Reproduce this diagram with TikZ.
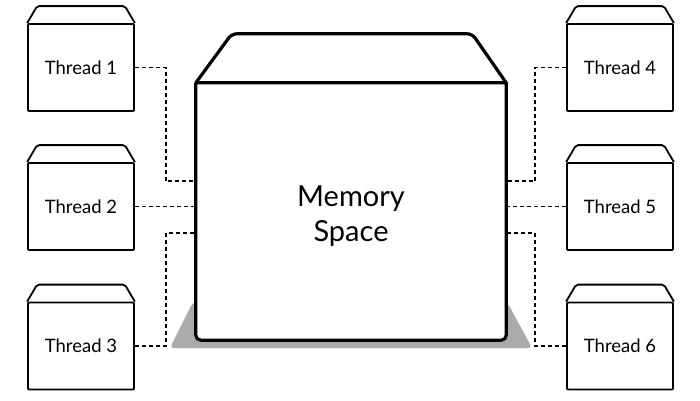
\documentclass[tikz,border=0pt]{standalone}
\usepackage{fontspec}
\setmainfont{Lato}
\usetikzlibrary{calc,backgrounds}

\definecolor{noir}{RGB}{0, 0, 0}
\definecolor{gris}{RGB}{170, 170, 170}
\definecolor{blanc}{RGB}{255, 255, 255}

\begin{document}
\begin{tikzpicture}[x=1pt, y=-1pt,
    thread/.style={draw=noir, fill=blanc, line width=1.8pt, rounded corners=1pt,
      minimum width=106pt, minimum height=87pt, inner sep=0pt,
      font=\fontsize{18.5}{22}\selectfont},
    threadface/.style={draw=noir, line width=1.8pt, rounded corners=2pt, line join=round},
    memoire/.style={fill=blanc, minimum width=310pt, minimum height=257pt},
    memoiretexte/.style={align=center, font=\fontsize{29}{35}\selectfont},
    memoireface/.style={draw=noir, line width=3.2pt, line join=round},
    lien/.style={draw=noir, line width=1.6pt, dash pattern=on 4pt off 3pt}]
  \useasboundingbox (0, 0) rectangle (700, 400);

  % threads
  \foreach \i/\x/\y in {1/81/67.5, 2/81/206.5, 3/81/346,
                        4/620/67.5, 5/620/206.5, 6/620/346} {
    \node[thread] (T\i) at (\x, \y) {Thread \i};
    \draw[threadface] (T\i.north west) -- ++(10, -17)
      -- ($(T\i.north east)+(-10, -17)$) -- (T\i.north east);
  }

  % shared memory
  \node[memoire] (mem) at (351, 211.5) {};
  \node[memoiretexte] (memtexte) at ($(mem.center)+(0, 5)$) {Memory\\Space};
  \draw[memoireface] (mem.north east) -- (mem.north west)
    [rounded corners=5pt] -- (mem.south west) -- (mem.south east)
    [sharp corners] -- (mem.north east) -- cycle;
  \draw[memoireface, rounded corners=5pt] (mem.north west) -- ++(36, -49)
    -- ($(mem.north east)+(-34, -49)$) [sharp corners] -- (mem.north east);
  \begin{pgfonlayer}{background}
    \fill[gris, rounded corners=4pt] ($(mem.south west)+(-3, -38)$)
      -- ($(mem.south west)+(-26, 8)$) -- ($(mem.south east)+(26, 8)$)
      -- ($(mem.south east)+(1, -38)$) -- cycle;
  \end{pgfonlayer}

  \foreach \j/\dy in {1/-30.5, 2/-5, 3/21.5} {
    \coordinate (mg\j) at ($(mem.west)+(0, \dy)$);
    \coordinate (md\j) at ($(mem.east)+(0, \dy)$);
  }

  % links
  \draw[lien] (T1.east) -- ++(31, 0) |- (mg1);
  \draw[lien] (T2.east) -- (mg2);
  \draw[lien] (T3.east) -- ++(31, 0) |- (mg3);
  \draw[lien] (T4.west) -- ++(-31, 0) |- (md1);
  \draw[lien] (T5.west) -- (md2);
  \draw[lien] (T6.west) -- ++(-31, 0) |- (md3);
\end{tikzpicture}
\end{document}
